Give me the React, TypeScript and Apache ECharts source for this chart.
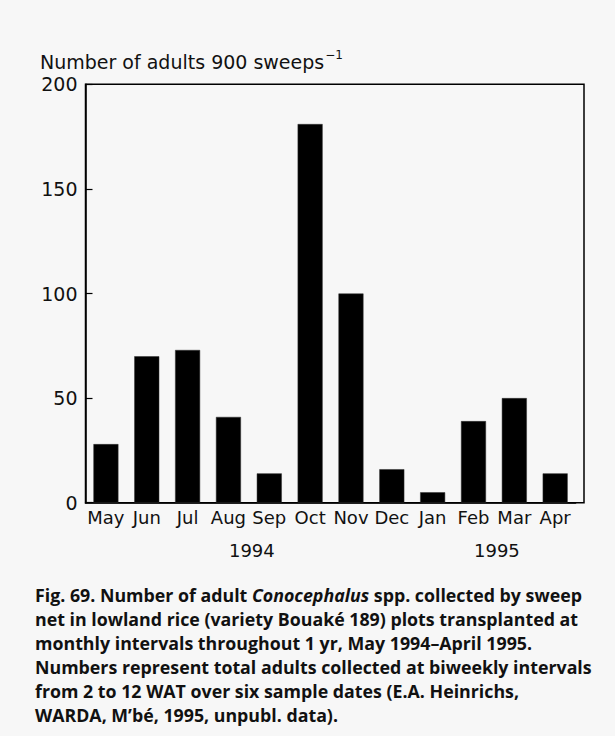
import React, { useEffect, useRef } from "react";
import * as echarts from "echarts";

const months = ["May", "Jun", "Jul", "Aug", "Sep", "Oct", "Nov", "Dec", "Jan", "Feb", "Mar", "Apr"];
const adults = [28, 70, 73, 41, 14, 181, 100, 16, 5, 39, 50, 14];
const yMin = 0;
const yMax = 200;
const yInterval = 50;
const yearLabels = [
  { text: "1994", between: ["Aug", "Sep"] },
  { text: "1995", between: ["Feb", "Mar"] },
];
const axisTitle = "Number of adults 900 sweeps";
const axisTitleSup = "\u22121";
const captionLines: { t: string; s: string }[][] = [
  [
    { t: "Fig. 69. Number of adult ", s: "b" },
    { t: "Conocephalus", s: "bi" },
    { t: " spp. collected by sweep", s: "b" },
  ],
  [{ t: "net in lowland rice (variety Bouaké 189) plots transplanted at", s: "b" }],
  [{ t: "monthly intervals throughout 1 yr, May 1994\u2013April 1995.", s: "b" }],
  [{ t: "Numbers represent total adults collected at biweekly intervals", s: "b" }],
  [{ t: "from 2 to 12 WAT over six sample dates (E.A. Heinrichs,", s: "b" }],
  [{ t: "WARDA, M\u2019bé, 1995, unpubl. data).", s: "b" }],
];

const FONT = "'DejaVu Sans', sans-serif";
const CAP_FONT = "'Open Sans', 'Noto Sans', sans-serif";

const GRID_LEFT = 85.5;
const GRID_TOP = 84.3;
const GRID_BOTTOM_Y = 502.7;
const BAND_RIGHT = 575.6;
const FRAME_RIGHT = 584;

export default function App() {
  const ref = useRef<HTMLDivElement>(null);
  useEffect(() => {
    if (!ref.current) return;
    const chart = echarts.init(ref.current, null, { renderer: "svg" });
    const option: any = {
      animation: false,
      backgroundColor: "#f7f7f7",
      grid: {
        left: GRID_LEFT,
        top: GRID_TOP,
        right: 615 - BAND_RIGHT,
        bottom: 736 - GRID_BOTTOM_Y,
        containLabel: false,
      },
      xAxis: {
        type: "category",
        data: months,
        axisLine: { show: true, lineStyle: { color: "#000", width: 1.5 } },
        axisTick: { show: false },
        axisLabel: {
          color: "#111",
          fontFamily: FONT,
          fontSize: 18,
          margin: 6,
          interval: 0,
        },
      },
      yAxis: {
        type: "value",
        min: yMin,
        max: yMax,
        interval: yInterval,
        axisLine: { show: true, lineStyle: { color: "#000", width: 1.5 } },
        axisTick: { show: true, inside: true, length: 7, lineStyle: { color: "#000", width: 1.2 } },
        splitLine: { show: false },
        axisLabel: {
          color: "#111",
          fontFamily: FONT,
          fontSize: 19,
          margin: 8,
          padding: [12, 0, 0, 0],
        },
      },
      series: [
        {
          type: "bar",
          data: adults,
          barWidth: 25,
          itemStyle: { color: "#000", borderColor: "#333", borderWidth: 0.5 },
        },
      ],
    };
    chart.setOption(option);

    const yearGraphics = yearLabels.map((y) => {
      const a = chart.convertToPixel({ xAxisIndex: 0 }, y.between[0]) as number;
      const b = chart.convertToPixel({ xAxisIndex: 0 }, y.between[1]) as number;
      return {
        type: "text",
        x: (a + b) / 2 + 3,
        y: 550,
        style: {
          text: y.text,
          fontFamily: FONT,
          fontSize: 18,
          fill: "#111",
          align: "center",
          verticalAlign: "middle",
        },
      };
    });

    const captionText = captionLines
      .map((line) => line.map((f) => `{${f.s}|${f.t}}`).join(""))
      .join("\n");

    chart.setOption({
      graphic: [
        {
          type: "rect",
          shape: {
            x: GRID_LEFT,
            y: GRID_TOP,
            width: FRAME_RIGHT - GRID_LEFT,
            height: GRID_BOTTOM_Y - GRID_TOP,
          },
          style: { fill: "none", stroke: "#000", lineWidth: 1.5 },
          silent: true,
        },
        {
          type: "text",
          x: 40,
          y: 60,
          style: {
            text: `{m|${axisTitle}}{s|${axisTitleSup}}`,
            verticalAlign: "middle",
            rich: {
              m: { fontFamily: FONT, fontSize: 19, fill: "#111", lineHeight: 22, verticalAlign: "bottom" },
              s: { fontFamily: FONT, fontSize: 12, fill: "#111", lineHeight: 22, verticalAlign: "top", padding: [0, 0, 0, 1] },
            },
          },
        },
        ...yearGraphics,
        {
          type: "text",
          x: 35,
          y: 583,
          style: {
            text: captionText,
            rich: {
              b: { fontFamily: CAP_FONT, fontWeight: "bold", fontSize: 17.8, lineHeight: 24, fill: "#111" },
              bi: {
                fontFamily: CAP_FONT,
                fontWeight: "bold",
                fontStyle: "italic",
                fontSize: 17.8,
                lineHeight: 24,
                fill: "#111",
              },
            },
          },
        },
      ],
    });

    return () => chart.dispose();
  }, []);
  return (
    <div
      ref={ref}
      style={{ position: "fixed", left: 0, top: 0, width: 615, height: 736, background: "#f7f7f7" }}
    />
  );
}
